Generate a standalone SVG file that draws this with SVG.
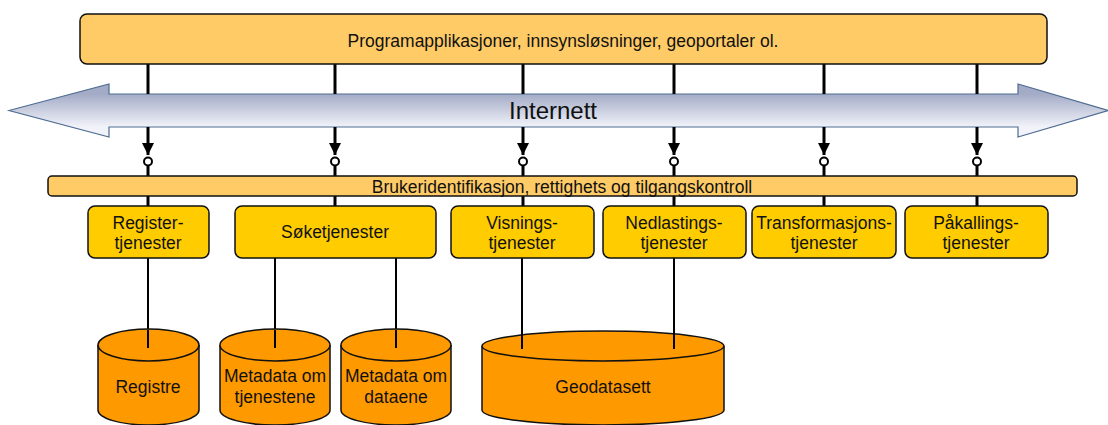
<svg xmlns="http://www.w3.org/2000/svg" width="1108" height="425" viewBox="0 0 1108 425">
<defs>
<linearGradient id="arrowGrad" gradientUnits="userSpaceOnUse" x1="0" y1="94" x2="0" y2="127">
<stop offset="0" stop-color="#A3ABC6"/>
<stop offset="1" stop-color="#F2F3FA"/>
</linearGradient>
<marker id="ah" viewBox="0 0 12 12" refX="12" refY="6" markerWidth="12" markerHeight="12" markerUnits="userSpaceOnUse" orient="auto">
<path d="M0,0 L12,6 L0,12 Z" fill="#000"/>
</marker>
</defs>
<style>
text{font-family:"Liberation Sans",Arial,sans-serif;fill:#111;text-anchor:middle}
.box{stroke:#111;stroke-width:1.5}
.svc{fill:#FFCC00}
.db{fill:#FF9900;stroke:#111;stroke-width:1.5}
.thick{stroke:#000;stroke-width:3;fill:none}
.thin{stroke:#000;stroke-width:2;fill:none}
.ring{fill:#fff;stroke:#000;stroke-width:2}
.t{font-size:17.5px}
</style>

<g id="internet-arrow">
<path d="M9,110.5 L109,84 L109,94 L1018,94 L1018,84 L1108,110.5 L1018,137 L1018,127 L109,127 L109,137 Z" fill="url(#arrowGrad)" stroke="#4E6C92" stroke-width="1.2"/>
<text x="553" y="119" style="font-size:24px">Internett</text>
</g>

<g id="connectors">
<g class="upper">
<line class="thick" x1="148" y1="64" x2="148" y2="94"/>
<line class="thick" x1="335" y1="64" x2="335" y2="94"/>
<line class="thick" x1="523" y1="64" x2="523" y2="94"/>
<line class="thick" x1="674" y1="64" x2="674" y2="94"/>
<line class="thick" x1="824" y1="64" x2="824" y2="94"/>
<line class="thick" x1="977" y1="64" x2="977" y2="94"/>
</g>
<g class="lower">
<line class="thick" x1="148" y1="127" x2="148" y2="155" marker-end="url(#ah)"/>
<line class="thick" x1="335" y1="127" x2="335" y2="155" marker-end="url(#ah)"/>
<line class="thick" x1="523" y1="127" x2="523" y2="155" marker-end="url(#ah)"/>
<line class="thick" x1="674" y1="127" x2="674" y2="155" marker-end="url(#ah)"/>
<line class="thick" x1="824" y1="127" x2="824" y2="155" marker-end="url(#ah)"/>
<line class="thick" x1="977" y1="127" x2="977" y2="155" marker-end="url(#ah)"/>
<line class="thick" x1="148" y1="166" x2="148" y2="206"/>
<line class="thick" x1="335" y1="166" x2="335" y2="206"/>
<line class="thick" x1="523" y1="166" x2="523" y2="206"/>
<line class="thick" x1="674" y1="166" x2="674" y2="206"/>
<line class="thick" x1="824" y1="166" x2="824" y2="206"/>
<line class="thick" x1="977" y1="166" x2="977" y2="206"/>
<circle class="ring" cx="148" cy="161.5" r="4"/>
<circle class="ring" cx="335" cy="161.5" r="4"/>
<circle class="ring" cx="523" cy="161.5" r="4"/>
<circle class="ring" cx="674" cy="161.5" r="4"/>
<circle class="ring" cx="824" cy="161.5" r="4"/>
<circle class="ring" cx="977" cy="161.5" r="4"/>
</g>
<g class="data">
<line class="thin" x1="148" y1="258" x2="148" y2="348"/>
<line class="thin" x1="275" y1="258" x2="275" y2="348"/>
<line class="thin" x1="396" y1="258" x2="396" y2="348"/>
<line class="thin" x1="522" y1="258" x2="522" y2="349"/>
<line class="thin" x1="674" y1="258" x2="674" y2="349"/>
</g>
</g>

<g id="applications">
<rect class="box" x="80" y="14" width="967" height="50" rx="7" fill="#FECB66"/>
<text class="t" x="563" y="47">Programapplikasjoner, innsynsløsninger, geoportaler ol.</text>
</g>

<g id="access-control">
<rect class="box" x="48" y="176" width="1029" height="20" rx="4" fill="#FECB66"/>
<text class="t" x="562" y="192.5">Brukeridentifikasjon, rettighets og tilgangskontroll</text>
</g>

<g id="svc-register">
<rect class="box svc" x="88" y="206" width="121" height="52" rx="7"/>
<text class="t" x="148" y="229">Register-</text>
<text class="t" x="148" y="249">tjenester</text>
</g>
<g id="svc-soke">
<rect class="box svc" x="235" y="206" width="201" height="52" rx="7"/>
<text class="t" x="335" y="238">Søketjenester</text>
</g>
<g id="svc-visning">
<rect class="box svc" x="451" y="206" width="143" height="52" rx="7"/>
<text class="t" x="522" y="229">Visnings-</text>
<text class="t" x="522" y="249">tjenester</text>
</g>
<g id="svc-nedlasting">
<rect class="box svc" x="603" y="206" width="143" height="52" rx="7"/>
<text class="t" x="674" y="229">Nedlastings-</text>
<text class="t" x="674" y="249">tjenester</text>
</g>
<g id="svc-transformasjon">
<rect class="box svc" x="752" y="206" width="144" height="52" rx="7"/>
<text class="t" x="824" y="229">Transformasjons-</text>
<text class="t" x="824" y="249">tjenester</text>
</g>
<g id="svc-pakalling">
<rect class="box svc" x="905" y="206" width="143" height="52" rx="7"/>
<text class="t" x="976" y="229">Påkallings-</text>
<text class="t" x="976" y="249">tjenester</text>
</g>

<g id="db-registre">
<path class="db" d="M98,345 L98,410 A50.5,15 0 0 0 199,410 L199,345"/>
<ellipse class="db" cx="148.5" cy="345" rx="50.5" ry="16"/>
<text class="t" x="148" y="393">Registre</text>
</g>
<g id="db-meta-tjenester">
<path class="db" d="M220,345 L220,410 A55,15 0 0 0 330,410 L330,345"/>
<ellipse class="db" cx="275" cy="345" rx="55" ry="16"/>
<text class="t" x="275" y="382">Metadata om</text>
<text class="t" x="275" y="403">tjenestene</text>
</g>
<g id="db-meta-data">
<path class="db" d="M341,345 L341,410 A55,15 0 0 0 451,410 L451,345"/>
<ellipse class="db" cx="396" cy="345" rx="55" ry="16"/>
<text class="t" x="396" y="382">Metadata om</text>
<text class="t" x="396" y="403">dataene</text>
</g>
<g id="db-geodatasett">
<path class="db" d="M482,346 L482,410 A121,15 0 0 0 724,410 L724,346"/>
<ellipse class="db" cx="603" cy="346" rx="121" ry="15"/>
<text class="t" x="603" y="393">Geodatasett</text>
</g>

<g id="connector-tops">
<line class="thin" x1="148" y1="330" x2="148" y2="348"/>
<line class="thin" x1="275" y1="330" x2="275" y2="348"/>
<line class="thin" x1="396" y1="330" x2="396" y2="348"/>
<line class="thin" x1="522" y1="332" x2="522" y2="349"/>
<line class="thin" x1="674" y1="332" x2="674" y2="349"/>
</g>
</svg>
